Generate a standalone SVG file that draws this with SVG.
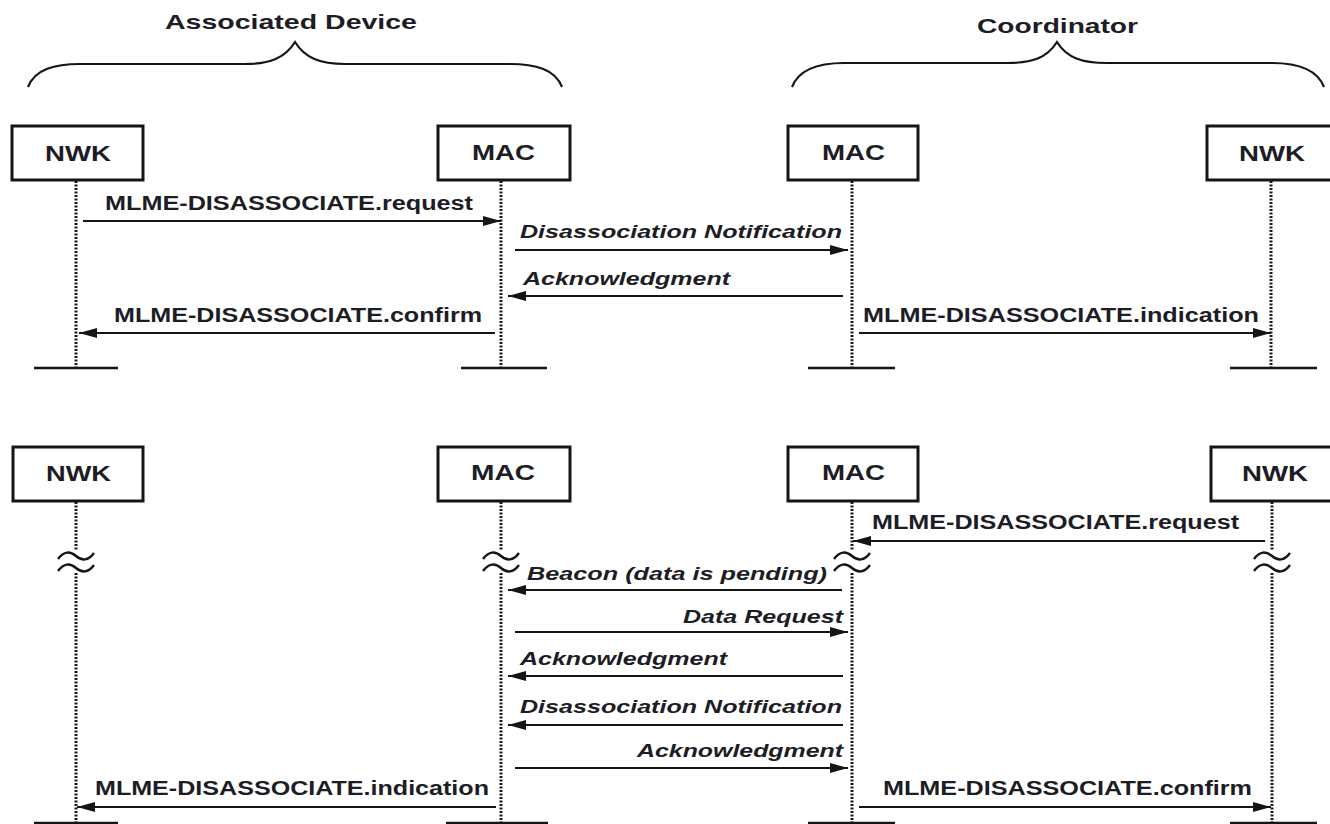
<svg xmlns="http://www.w3.org/2000/svg" width="1330" height="824" viewBox="0 0 1330 824">
<style>
.box{fill:#fff;stroke:#151515;stroke-width:3}
.t{fill:#1d1d26;font-family:"Liberation Sans",Arial,sans-serif;font-weight:bold}
.hd{font-size:21px}
.lbl{font-size:22px}
.msg{font-size:20px}
.it{font-size:19px;font-style:italic}
.life{stroke:#1a1a1a;stroke-width:3;stroke-dasharray:2 1.5;fill:none}
.bar{stroke:#151515;stroke-width:2.5}
.arr{stroke:#151515;stroke-width:2;fill:none;marker-end:url(#ah)}
.brace{stroke:#151515;stroke-width:2.2;fill:none}
.wave{stroke:#151515;stroke-width:2.4;fill:none}
</style>
<defs>
<marker id="ah" markerUnits="userSpaceOnUse" markerWidth="20" markerHeight="10" refX="18" refY="5" orient="auto">
<path d="M0,0 L18,5 L0,10 z" fill="#151515"/>
</marker>
</defs>
<rect width="1330" height="824" fill="#fff"/>

<g id="header-associated-device">
<path class="brace" d="M28 87 C35 69,55 64,80 64 L245 64 C270 64,285 58,295 42 C305 58,320 64,345 64 L510 64 C535 64,555 69,562 87"/>
<text class="t hd" x="165" y="29" textLength="252" lengthAdjust="spacingAndGlyphs">Associated Device</text>
</g>
<g id="header-coordinator">
<path class="brace" d="M792 87 C799 69,819 63,844 63 L1007 63 C1032 63,1047 58,1057 42 C1067 58,1082 63,1107 63 L1272 63 C1297 63,1317 69,1324 87"/>
<text class="t hd" x="977" y="33" textLength="161" lengthAdjust="spacingAndGlyphs">Coordinator</text>
</g>

<g id="top-dev-nwk">
<rect class="box" x="12" y="126" width="131" height="54"/>
<text class="t lbl" x="45" y="161" textLength="66" lengthAdjust="spacingAndGlyphs">NWK</text>
</g>
<g id="top-dev-mac">
<rect class="box" x="438" y="126" width="132" height="54"/>
<text class="t lbl" x="472" y="160" textLength="63" lengthAdjust="spacingAndGlyphs">MAC</text>
</g>
<g id="top-coord-mac">
<rect class="box" x="788" y="126" width="130" height="54"/>
<text class="t lbl" x="822" y="160" textLength="63" lengthAdjust="spacingAndGlyphs">MAC</text>
</g>
<g id="top-coord-nwk">
<rect class="box" x="1207" y="126" width="135" height="54"/>
<text class="t lbl" x="1239" y="161" textLength="66" lengthAdjust="spacingAndGlyphs">NWK</text>
</g>

<g id="bot-dev-nwk">
<rect class="box" x="13" y="447" width="130" height="54"/>
<text class="t lbl" x="46" y="481" textLength="65" lengthAdjust="spacingAndGlyphs">NWK</text>
</g>
<g id="bot-dev-mac">
<rect class="box" x="438" y="447" width="132" height="54"/>
<text class="t lbl" x="471" y="480" textLength="64" lengthAdjust="spacingAndGlyphs">MAC</text>
</g>
<g id="bot-coord-mac">
<rect class="box" x="788" y="447" width="130" height="54"/>
<text class="t lbl" x="822" y="480" textLength="63" lengthAdjust="spacingAndGlyphs">MAC</text>
</g>
<g id="bot-coord-nwk">
<rect class="box" x="1211" y="447" width="131" height="54"/>
<text class="t lbl" x="1242" y="481" textLength="66" lengthAdjust="spacingAndGlyphs">NWK</text>
</g>

<g id="connectors">
<line class="life" x1="76" y1="181" x2="76" y2="368"/>
<line class="life" x1="501" y1="181" x2="501" y2="368"/>
<line class="life" x1="852" y1="181" x2="852" y2="368"/>
<line class="life" x1="1271" y1="181" x2="1271" y2="368"/>
<line class="bar" x1="34" y1="368" x2="118" y2="368"/>
<line class="bar" x1="461" y1="368" x2="547" y2="368"/>
<line class="bar" x1="808" y1="368" x2="895" y2="368"/>
<line class="bar" x1="1230" y1="368" x2="1317" y2="368"/>

<line class="life" x1="76" y1="502" x2="76" y2="551"/>
<line class="life" x1="76" y1="573" x2="76" y2="824"/>
<line class="life" x1="501" y1="502" x2="501" y2="551"/>
<line class="life" x1="501" y1="573" x2="501" y2="824"/>
<line class="life" x1="852" y1="502" x2="852" y2="551"/>
<line class="life" x1="852" y1="573" x2="852" y2="824"/>
<line class="life" x1="1272" y1="502" x2="1272" y2="551"/>
<line class="life" x1="1272" y1="573" x2="1272" y2="824"/>
<path class="wave" d="M58 559 C64 551,70 551,76 556 S88 561,94 553 M58 571 C64 563,70 563,76 568 S88 573,94 565"/>
<path class="wave" d="M483 559 C489 551,495 551,501 556 S513 561,519 553 M483 571 C489 563,495 563,501 568 S513 573,519 565"/>
<path class="wave" d="M834 559 C840 551,846 551,852 556 S864 561,870 553 M834 571 C840 563,846 563,852 568 S864 573,870 565"/>
<path class="wave" d="M1254 559 C1260 551,1266 551,1272 556 S1284 561,1290 553 M1254 571 C1260 563,1266 563,1272 568 S1284 573,1290 565"/>
<line class="bar" x1="34" y1="823" x2="118" y2="823"/>
<line class="bar" x1="446" y1="823" x2="548" y2="823"/>
<line class="bar" x1="808" y1="823" x2="895" y2="823"/>
<line class="bar" x1="1230" y1="823" x2="1317" y2="823"/>

<line class="arr" x1="83" y1="221" x2="501" y2="221"/>
<text class="t msg" x="105" y="210" textLength="368" lengthAdjust="spacingAndGlyphs">MLME-DISASSOCIATE.request</text>
<line class="arr" x1="515" y1="250" x2="848" y2="250"/>
<text class="t it" x="520" y="238" textLength="322" lengthAdjust="spacingAndGlyphs">Disassociation Notification</text>
<line class="arr" x1="843" y1="296" x2="508" y2="296"/>
<text class="t it" x="523" y="285" textLength="207" lengthAdjust="spacingAndGlyphs">Acknowledgment</text>
<line class="arr" x1="495" y1="333" x2="79" y2="333"/>
<text class="t msg" x="114" y="322" textLength="368" lengthAdjust="spacingAndGlyphs">MLME-DISASSOCIATE.confirm</text>
<line class="arr" x1="859" y1="333" x2="1271" y2="333"/>
<text class="t msg" x="863" y="322" textLength="396" lengthAdjust="spacingAndGlyphs">MLME-DISASSOCIATE.indication</text>

<line class="arr" x1="1265" y1="541" x2="853" y2="541"/>
<text class="t msg" x="872" y="529" textLength="367" lengthAdjust="spacingAndGlyphs">MLME-DISASSOCIATE.request</text>
<line class="arr" x1="842" y1="590" x2="508" y2="590"/>
<text class="t it" x="527" y="580" textLength="300" lengthAdjust="spacingAndGlyphs">Beacon (data is pending)</text>
<line class="arr" x1="515" y1="632" x2="848" y2="632"/>
<text class="t it" x="683" y="623" textLength="160" lengthAdjust="spacingAndGlyphs">Data Request</text>
<line class="arr" x1="843" y1="676" x2="508" y2="676"/>
<text class="t it" x="520" y="665" textLength="207" lengthAdjust="spacingAndGlyphs">Acknowledgment</text>
<line class="arr" x1="843" y1="725" x2="508" y2="725"/>
<text class="t it" x="520" y="713" textLength="322" lengthAdjust="spacingAndGlyphs">Disassociation Notification</text>
<line class="arr" x1="515" y1="768" x2="848" y2="768"/>
<text class="t it" x="637" y="757" textLength="206" lengthAdjust="spacingAndGlyphs">Acknowledgment</text>
<line class="arr" x1="496" y1="807" x2="77" y2="807"/>
<text class="t msg" x="95" y="795" textLength="394" lengthAdjust="spacingAndGlyphs">MLME-DISASSOCIATE.indication</text>
<line class="arr" x1="859" y1="807" x2="1271" y2="807"/>
<text class="t msg" x="883" y="795" textLength="369" lengthAdjust="spacingAndGlyphs">MLME-DISASSOCIATE.confirm</text>
</g>
</svg>
